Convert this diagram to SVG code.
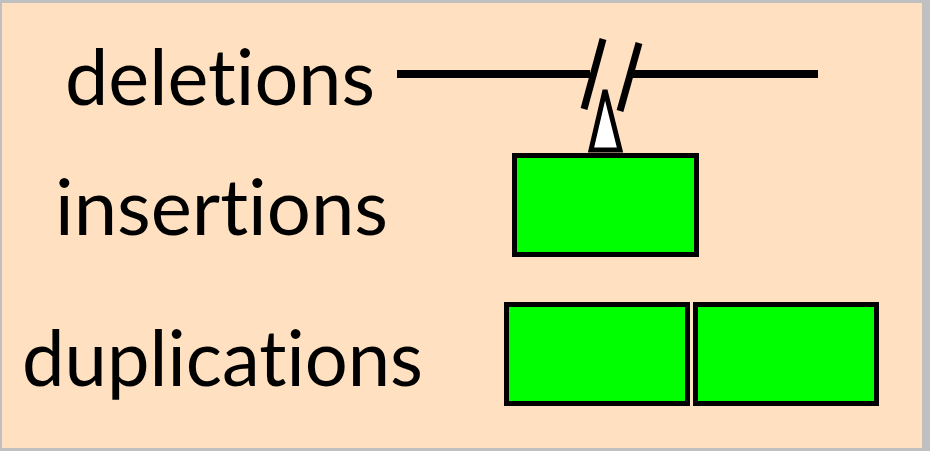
<svg xmlns="http://www.w3.org/2000/svg" width="930" height="451" viewBox="0 0 930 451">
<style>
.lbl{font-family:Lato,"Open Sans","Liberation Sans",sans-serif;font-size:78px;fill:#000;font-variant-ligatures:none;font-feature-settings:"liga" 0,"clig" 0,"dlig" 0}
.box{fill:#00ff00;stroke:#000;stroke-width:5}
.ln{stroke:#000;fill:none}
</style>
<rect x="0" y="0" width="930" height="451" fill="#c0c0c0"/>
<rect x="2" y="3" width="920" height="445" fill="#ffe0c0"/>
<g id="label-deletions"><text class="lbl" x="65" y="105" textLength="310" lengthAdjust="spacingAndGlyphs">deletions</text></g>
<g id="label-insertions"><text class="lbl" x="55" y="235" textLength="333" lengthAdjust="spacingAndGlyphs">insertions</text></g>
<g id="label-duplications"><text class="lbl" x="22" y="386" textLength="401" lengthAdjust="spacingAndGlyphs">duplications</text></g>
<g id="deletion-line">
<line class="ln" x1="397" y1="74" x2="590" y2="74" stroke-width="8"/>
<line class="ln" x1="631" y1="74" x2="818" y2="74" stroke-width="8"/>
<line class="ln" x1="603" y1="39" x2="584" y2="109" stroke-width="7"/>
<line class="ln" x1="639" y1="43" x2="620" y2="111" stroke-width="7"/>
</g>
<g id="insertion-marker"><polygon points="605,90 591,150 620,150" fill="#fff" stroke="#000" stroke-width="5"/></g>
<g id="insertion-box"><rect class="box" x="514.5" y="155.5" width="182" height="99"/></g>
<g id="duplication-box-1"><rect class="box" x="506.5" y="304.5" width="181" height="99"/></g>
<g id="duplication-box-2"><rect class="box" x="695.5" y="304.5" width="181" height="99"/></g>
</svg>
